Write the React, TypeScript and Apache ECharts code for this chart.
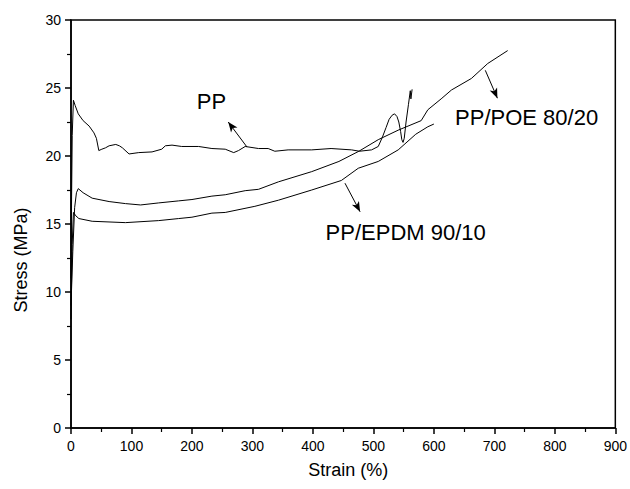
import React, { useEffect, useRef } from "react";
import * as echarts from "echarts";

// Strain (%) / Stress (MPa) pairs
const ppCurve: [number, number][] = [
  [0, 11], [1, 17], [2, 21.5], [4, 24.1], [7, 23.7], [12, 23.1], [20, 22.6], [30, 22.2], [38, 21.7], [42, 21.3],
  [46, 20.4], [51, 20.5], [57, 20.6], [63, 20.75], [74, 20.85], [80, 20.75], [85, 20.6], [96, 20.15],
  [112, 20.25], [134, 20.3], [150, 20.5], [156, 20.75], [167, 20.8], [183, 20.7], [211, 20.7],
  [233, 20.55], [255, 20.5], [269, 20.25], [277, 20.4], [288, 20.7], [310, 20.55], [326, 20.55],
  [337, 20.35], [359, 20.45], [398, 20.45], [430, 20.55], [464, 20.45], [477, 20.35], [497, 20.45],
  [508, 20.7], [515, 21.4], [521, 22.1], [526, 22.7], [531, 23.0], [535, 23.1], [539, 22.9], [542, 22.5],
  [545, 21.8], [547, 21.2], [549, 21.0], [551, 21.3], [554, 22.5], [558, 23.8], [561, 24.8], [562, 24.2], [564, 24.9],
];

const poeCurve: [number, number][] = [
  [0, 9], [3, 13], [6, 16.2], [9, 17.3], [12, 17.6], [20, 17.3], [35, 16.9], [63, 16.65], [90, 16.5],
  [115, 16.4], [145, 16.55], [178, 16.7], [200, 16.8], [233, 17.05], [255, 17.15], [288, 17.45],
  [310, 17.55], [343, 18.1], [398, 18.85], [443, 19.6], [476, 20.35], [508, 21.2], [541, 21.9],
  [579, 22.6], [590, 23.4], [612, 24.2], [629, 24.85], [662, 25.7], [689, 26.8], [722, 27.75],
];

const epdmCurve: [number, number][] = [
  [0, 8], [1, 11], [2, 13.5], [4, 15.85], [8, 15.6], [13, 15.4], [35, 15.2], [90, 15.1], [145, 15.25],
  [178, 15.4], [200, 15.5], [233, 15.8], [255, 15.85], [304, 16.3], [343, 16.75], [398, 17.5],
  [447, 18.2], [475, 19.1], [508, 19.6], [541, 20.45], [570, 21.6], [590, 22.15], [600, 22.35],
];

const seriesNames = ["PP", "PP/POE 80/20", "PP/EPDM 90/10"];

// Annotation anchors in data units: [tail on curve], [arrow head], [label left-middle]
const ppArrow: [number, number][] = [[291, 20.66], [260, 22.5]];
const ppLabelAt: [number, number] = [208, 24.0];
const poeArrow: [number, number][] = [[685, 26.3], [705, 24.25]];
const poeLabelAt: [number, number] = [635, 22.8];
const epdmArrow: [number, number][] = [[453, 18.0], [478, 15.9]];
const epdmLabelAt: [number, number] = [421, 14.4];

const xTicks = { min: 0, max: 900, interval: 100 };
const yTicks = { min: 0, max: 30, interval: 5 };

const FONT = "Liberation Sans";

function makeSeries(name: string, data: [number, number][], arrow: [number, number][], labelAt: [number, number]) {
  return {
    name,
    type: "line",
    data,
    showSymbol: false,
    symbol: "none",
    lineStyle: { color: "#000", width: 1 },
    itemStyle: { color: "#000" },
    markLine: {
      silent: true,
      symbol: ["none", "arrow"],
      symbolSize: [6, 10],
      label: { show: false },
      lineStyle: { color: "#000", width: 1, type: "solid" },
      data: [[{ coord: arrow[0] }, { coord: arrow[1] }]],
    },
    markPoint: {
      silent: true,
      symbol: "circle",
      symbolSize: 0,
      data: [{ coord: labelAt, name }],
      label: {
        show: true,
        position: "right",
        distance: 0,
        formatter: name,
        color: "#000",
        fontFamily: FONT,
        fontSize: 22,
      },
    },
  };
}

export default function App() {
  const ref = useRef<HTMLDivElement>(null);
  useEffect(() => {
    if (!ref.current) return;
    const chart = echarts.init(ref.current, undefined, { renderer: "svg" });
    const axisCommon = {
      axisLine: { show: true, lineStyle: { color: "#000", width: 1.5 } },
      axisTick: { show: true, inside: false, length: 6, lineStyle: { color: "#000", width: 1.5 } },
      minorTick: { show: true, splitNumber: 2, length: 4, lineStyle: { color: "#000", width: 1.2 } },
      splitLine: { show: false },
      axisLabel: { color: "#000", fontFamily: FONT, fontSize: 14 },
    };
    chart.setOption({
      animation: false,
      backgroundColor: "#fff",
      grid: {
        left: 71, right: 13, top: 20, bottom: 61,
        show: true, borderColor: "#000", borderWidth: 1.5, backgroundColor: "transparent",
      },
      xAxis: {
        type: "value",
        ...xTicks,
        ...axisCommon,
        axisLabel: { ...axisCommon.axisLabel, margin: 11 },
        name: "Strain (%)",
        nameLocation: "middle",
        nameGap: 33,
        nameTextStyle: { color: "#000", fontFamily: FONT, fontSize: 18, padding: [0, 0, 0, 10] },
      },
      yAxis: {
        type: "value",
        ...yTicks,
        ...axisCommon,
        axisLabel: { ...axisCommon.axisLabel, margin: 10 },
      },
      graphic: [
        {
          type: "text",
          x: 21,
          y: 260,
          rotation: Math.PI / 2,
          style: {
            text: "Stress (MPa)",
            fill: "#000",
            font: `18px "${FONT}"`,
            textAlign: "center",
            textVerticalAlign: "middle",
          },
        },
      ],
      series: [
        makeSeries(seriesNames[0], ppCurve, ppArrow, ppLabelAt),
        makeSeries(seriesNames[1], poeCurve, poeArrow, poeLabelAt),
        makeSeries(seriesNames[2], epdmCurve, epdmArrow, epdmLabelAt),
      ],
    });
    return () => chart.dispose();
  }, []);
  return (
    <div
      ref={ref}
      style={{ position: "fixed", left: 0, top: 0, width: 630, height: 489 }}
    />
  );
}
